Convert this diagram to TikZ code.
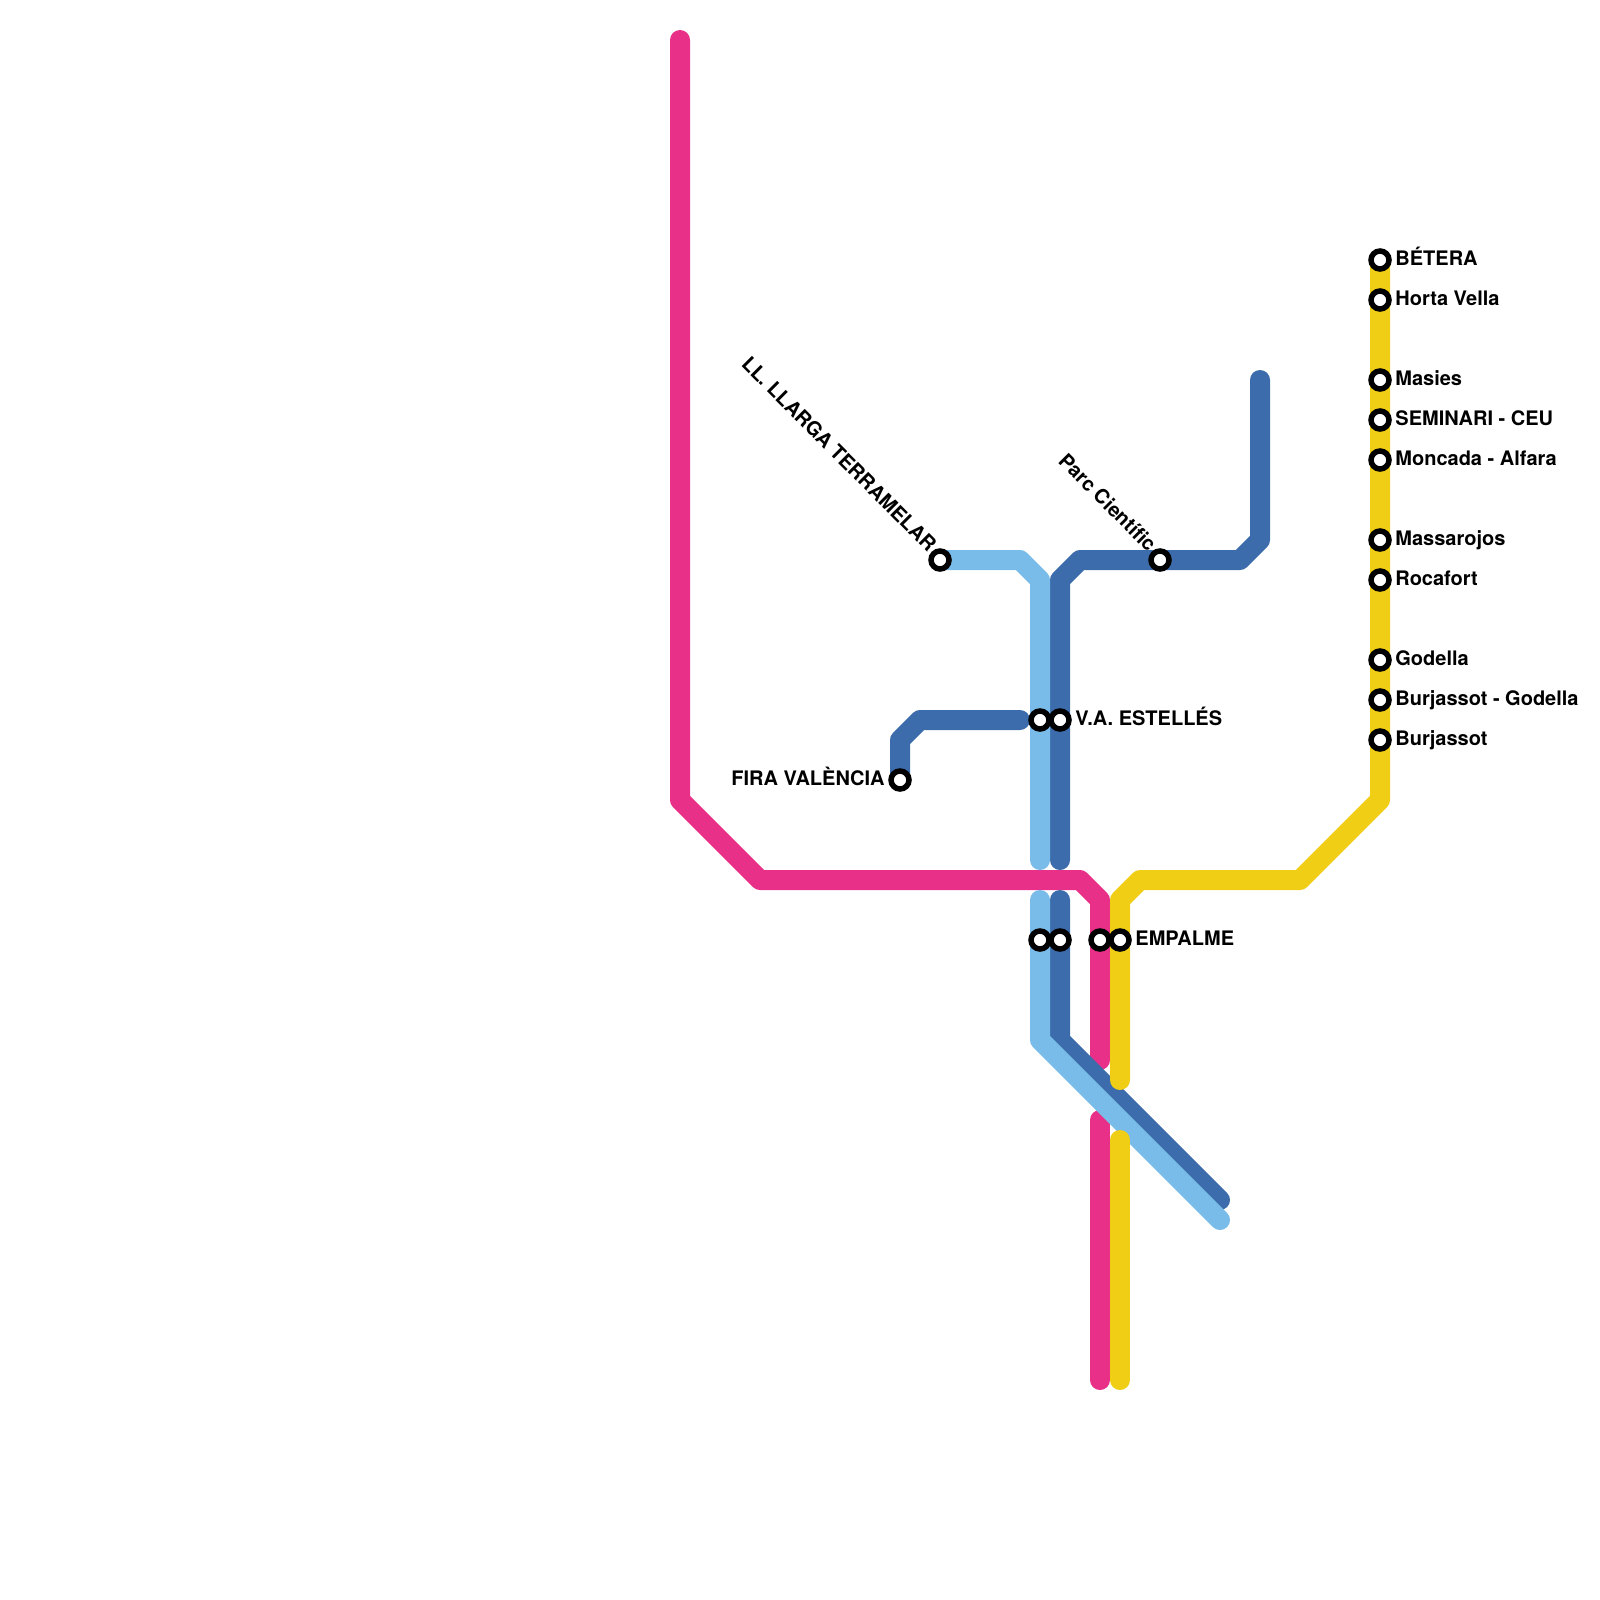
\documentclass[tikz,border=0pt]{standalone}
\usepackage{fontspec}
\setmainfont{TeX Gyre Heros}
\usepackage{xcolor}
\definecolor{linepink}{RGB}{233,48,137}
\definecolor{lineyellow}{RGB}{240,206,21}
\definecolor{linedark}{RGB}{60,108,171}
\definecolor{linelight}{RGB}{121,188,233}
\usetikzlibrary{calc}
\tikzset{
  metro/.style    ={line width=10pt,line cap=round,line join=round},
  pinkline/.style ={metro,draw=linepink},
  darkline/.style ={metro,draw=linedark},
  lightline/.style={metro,draw=linelight},
  yellowline/.style={metro,draw=lineyellow},
  station/.style  ={circle,draw=black,fill=white,line width=2.75pt,inner sep=0pt,
                    outer sep=0pt,minimum size=9pt},
  stnlabel/.style ={inner sep=0pt,font=\fontsize{10}{12}\selectfont\bfseries,text=black},
}

\begin{document}
\begin{tikzpicture}[x=0.5pt,y=-0.5pt]
  \useasboundingbox (0,0) rectangle (1600,1600);
  \foreach \n/\p in {pa/{680,40},pb/{680,800},pc/{760,880},pd/{1080,880},pe/{1100,900},pf/{1100,1060},
                     pg/{1100,1120},ph/{1100,1380},
                     ya/{1380,260},yb/{1380,800},yc/{1300,880},yd/{1140,880},ye/{1120,900},yf/{1120,1080},
                     yg/{1120,1140},yh/{1120,1380},
                     da/{1260,380},db/{1260,540},dc/{1240,560},dd/{1080,560},de/{1060,580},df/{1060,860},
                     dg/{1060,900},dh/{1060,1040},di/{1220,1200},
                     dj/{900,780},dk/{900,740},dl/{920,720},dm/{1020,720},
                     la/{940,560},lb/{1020,560},lc/{1040,580},ld/{1040,860},
                     le/{1040,900},lf/{1040,1040},lg/{1220,1220}}
    \coordinate (\n) at (\p);

  \draw[pinkline] (pa) -- (pb) -- (pc) -- (pd) -- (pe) -- (pf);
  \draw[pinkline] (pg) -- (ph);
  \draw[darkline] (da) -- (db) -- (dc) -- (dd) -- (de) -- (df);
  \draw[darkline] (dg) -- (dh) -- (di);
  \draw[darkline] (dj) -- (dk) -- (dl) -- (dm);
  \draw[lightline] (la) -- (lb) -- (lc) -- (ld);
  \draw[lightline] (le) -- (lf) -- (lg);
  \draw[yellowline] (ya) -- (yb) -- (yc) -- (yd) -- (ye) -- (yf);
  \draw[yellowline] (yg) -- (yh);

  \foreach \n/\py/\txt in {betera/260/BÉTERA,horta/300/Horta Vella,masies/380/Masies,
                           seminari/420/SEMINARI - CEU,moncada/460/Moncada - Alfara,
                           massarojos/540/Massarojos,rocafort/580/Rocafort,godella/660/Godella,
                           burjgod/700/Burjassot - Godella,burjassot/740/Burjassot} {
    \node[station] (\n) at (1380,\py) {};
    \node[stnlabel,anchor=base west] (\n txt) at ($(\n)+(15,5)$) {\txt};
  }

  \node[station] (estellesl) at (1040,720) {};
  \node[station] (estelles) at (1060,720) {};
  \node[stnlabel,anchor=base west] (estellestxt) at ($(estelles)+(15,5)$) {V.A. ESTELLÉS};
  \node[station] (empalmea) at (1040,940) {};
  \node[station] (empalmeb) at (1060,940) {};
  \node[station] (empalmec) at (1100,940) {};
  \node[station] (empalme) at (1120,940) {};
  \node[stnlabel,anchor=base west] (empalmetxt) at ($(empalme)+(15,5)$) {EMPALME};
  \node[station] (fira) at (900,780) {};
  \node[stnlabel,anchor=base east] (firatxt) at ($(fira)+(-15,5)$) {FIRA VALÈNCIA};
  \node[station] (llarga) at (940,560) {};
  \node[stnlabel,anchor=base east,rotate=-45] (llargatxt) at ($(llarga)+(-12,-7)$) {LL. LLARGA TERRAMELAR};
  \node[station] (parc) at (1160,560) {};
  \node[stnlabel,anchor=base east,rotate=-45] (parctxt) at ($(parc)+(-12,-7)$) {Parc Científic};
\end{tikzpicture}
\end{document}
